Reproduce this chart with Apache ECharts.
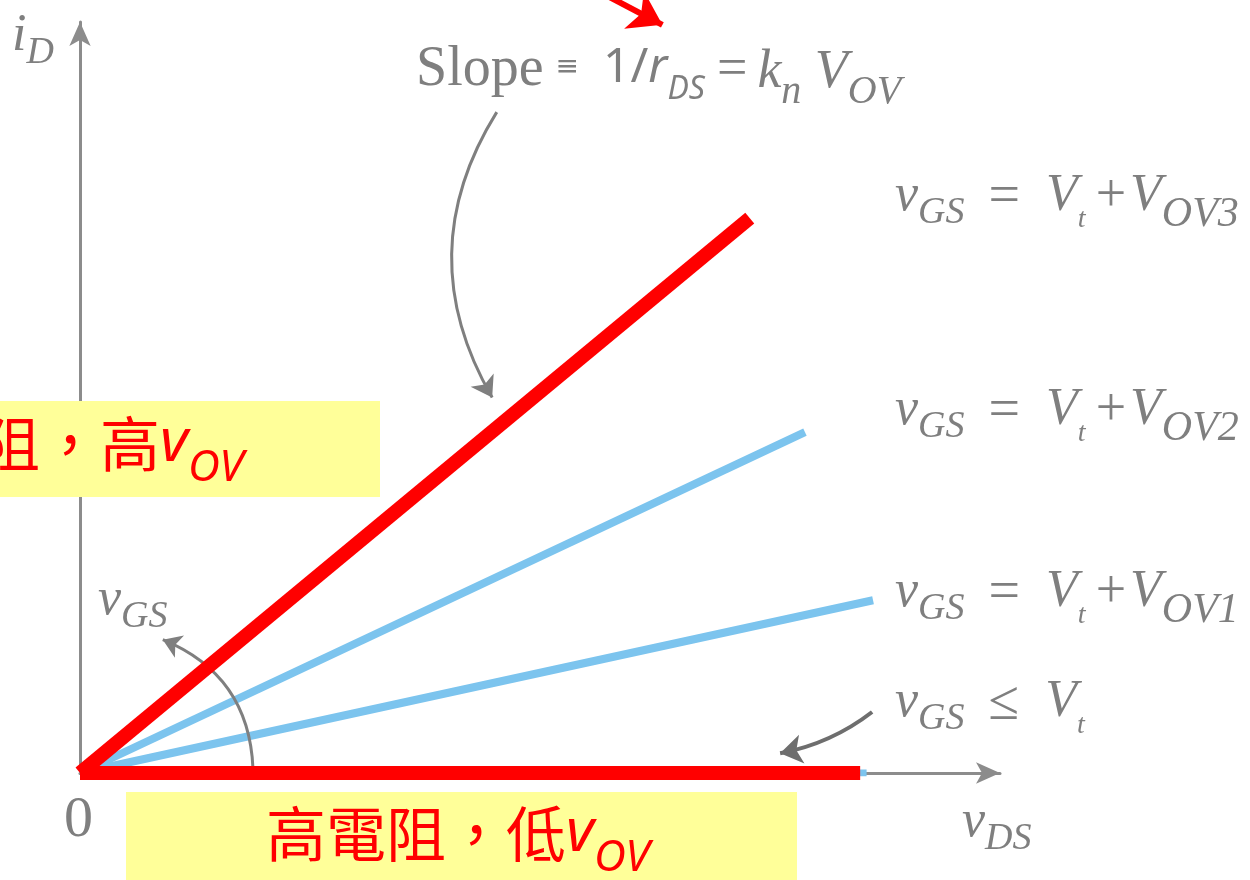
<!DOCTYPE html>
<html>
<head>
<meta charset="utf-8">
<script src="https://cdn.jsdelivr.net/npm/echarts@6/dist/echarts.min.js"></script>
<style>
  html, body { margin: 0; padding: 0; background: #fff; }
  #chart { width: 1250px; height: 880px; }
</style>
</head>
<body>
<div id="chart"></div>
<script>
// 曲線資料 (vDS, iD)，單位任意
const curveNames = ['VOV3', 'VOV2', 'VOV1', 'cutoff']
const endVds = [7.28, 7.88, 8.62, 8.48]
const endId = [5.91, 3.63, 1.84, 0]
const curveColors = ['#ff0000', '#7cc4ee', '#7cc4ee', '#ff0000']
const curveWidths = [14, 8, 8, 14]

// 註解箭頭: [起點, 終點]
const slopeArrow = [[4.53, 7.04], [4.48, 4.0]]
const gsArc = [[1.88, 0.05], [0.90, 1.42]]
const leqArrow = [[8.61, 0.65], [7.61, 0.21]]
const topArrow = [[5.65, 8.32], [6.33, 7.97]]

const GRAY = '#7f7f7f'
const SERIF = 'Liberation Serif'

function paintCurves () {
  return curveNames.map((name, i) => ({
    name,
    type: 'line',
    symbol: 'none',
    z: i === 0 || i === 3 ? 5 : 3,
    lineStyle: { color: curveColors[i], width: curveWidths[i], cap: 'butt' },
    data: [[0, 0], [endVds[i], endId[i]]]
  }))
}

function arrowSeries (pts, curveness, color, width, size) {
  return {
    type: 'lines',
    coordinateSystem: 'cartesian2d',
    clip: false,
    symbol: ['none', 'arrow'],
    symbolSize: size,
    z: 4,
    lineStyle: { color, width, curveness, opacity: 1 },
    data: [{ coords: pts }]
  }
}

// 數學式 rich 樣式 (graphic 用 fill)
const mathRich = {
  i: { fontFamily: SERIF, fontStyle: 'italic', fontSize: 52, fill: GRAY, lineHeight: 58, verticalAlign: 'top' },
  n: { fontFamily: SERIF, fontSize: 52, fill: GRAY, lineHeight: 58, verticalAlign: 'top' },
  op: { fontFamily: SERIF, fontSize: 56, fill: GRAY, lineHeight: 58, verticalAlign: 'top', padding: [0, 26, 0, 24] },
  pl: { fontFamily: SERIF, fontSize: 54, fill: GRAY, lineHeight: 58, verticalAlign: 'top', padding: [0, 4, 0, 10] },
  s: { fontFamily: SERIF, fontStyle: 'italic', fontSize: 38, fill: GRAY, lineHeight: 40, padding: [24, 0, 0, 0], verticalAlign: 'top' },
  s2: { fontFamily: SERIF, fontStyle: 'italic', fontSize: 42, fill: GRAY, lineHeight: 44, padding: [24, 0, 0, 0], verticalAlign: 'top' },
  t: { fontFamily: SERIF, fontStyle: 'italic', fontSize: 28, fill: GRAY, lineHeight: 30, padding: [36, 0, 0, 0], verticalAlign: 'top' },
  sl: { fontFamily: SERIF, fontSize: 56, fill: GRAY, lineHeight: 62, verticalAlign: 'top' },
  c: { fontFamily: 'Noto Sans', fontSize: 48, fill: GRAY, lineHeight: 62, padding: [2, 0, 0, 0], verticalAlign: 'top' },
  cr: { fontFamily: 'Noto Sans', fontStyle: 'italic', fontSize: 48, fill: GRAY, lineHeight: 62, padding: [2, 0, 0, 0], verticalAlign: 'top' },
  cs: { fontFamily: 'Noto Sans', fontStyle: 'italic', fontSize: 32, fill: GRAY, lineHeight: 36, padding: [32, 6, 0, 0], verticalAlign: 'top' },
  eq: { fontFamily: 'DejaVu Sans', fontSize: 28, fill: GRAY, lineHeight: 62, verticalAlign: 'top', padding: [12, 24, 0, 12] },
  se: { fontFamily: SERIF, fontSize: 54, fill: GRAY, lineHeight: 62, verticalAlign: 'top', padding: [2, 10, 0, 6] },
  si: { fontFamily: SERIF, fontStyle: 'italic', fontSize: 54, fill: GRAY, lineHeight: 62, padding: [4, 0, 0, 0], verticalAlign: 'top' },
  ss: { fontFamily: SERIF, fontStyle: 'italic', fontSize: 40, fill: GRAY, lineHeight: 42, padding: [30, 0, 0, 0], verticalAlign: 'top' }
}

function mathText (x, y, text) {
  return { type: 'text', x, y, z: 50, style: { text, rich: mathRich } }
}

const zhRich = {
  h: { fontFamily: 'Noto Sans CJK TC', fontSize: 60, fill: '#ff0000', lineHeight: 70, verticalAlign: 'top' },
  v: { fontFamily: 'Noto Sans', fontStyle: 'italic', fontSize: 60, fill: '#ff0000', lineHeight: 70, verticalAlign: 'top' },
  o: { fontFamily: 'Noto Sans', fontStyle: 'italic', fontSize: 44, fill: '#ff0000', lineHeight: 48, padding: [32, 0, 0, 0], verticalAlign: 'top' }
}

const chart = echarts.init(document.getElementById('chart'))
chart.setOption({
  animation: false,
  backgroundColor: '#ffffff',
  grid: { left: 80, right: 250, top: 22, bottom: 107 },
  xAxis: {
    type: 'value', min: 0, max: 10,
    axisLine: { lineStyle: { color: '#8c8c8c', width: 3 }, symbol: ['none', 'arrow'], symbolSize: [16, 24] },
    axisTick: { show: false }, axisLabel: { show: false }, splitLine: { show: false }
  },
  yAxis: {
    type: 'value', min: 0, max: 8,
    axisLine: { lineStyle: { color: '#8c8c8c', width: 3 }, symbol: ['none', 'arrow'], symbolSize: [16, 24] },
    axisTick: { show: false }, axisLabel: { show: false }, splitLine: { show: false }
  },
  series: [
    ...paintCurves(),
    {
      type: 'line', symbol: 'none', z: 2,
      lineStyle: { color: '#7cc4ee', width: 7 },
      data: [[0, 0], [8.55, 0]]
    },
    arrowSeries(slopeArrow, -0.3, GRAY, 3, [14, 20]),
    arrowSeries(gsArc, -0.32, GRAY, 3, [14, 18]),
    arrowSeries(leqArrow, 0.12, '#6e6e6e', 4, [16, 22]),
    arrowSeries(topArrow, 0, '#ff0000', 6, [28, 32])
  ],
  graphic: [
    mathText(12, 10, '{i|i}{s|D}'),
    mathText(416, 42, '{sl|Slope}{eq|≡}{c|1/}{cr|r}{cs|DS}{se|=}{si|k}{ss|n}{si| V}{ss|OV}'),
    mathText(895, 170, '{i|v}{s|GS}{op|=}{i|V}{t|t}{pl|+}{i|V}{s2|OV3}'),
    mathText(895, 384, '{i|v}{s|GS}{op|=}{i|V}{t|t}{pl|+}{i|V}{s2|OV2}'),
    mathText(895, 566, '{i|v}{s|GS}{op|=}{i|V}{t|t}{pl|+}{i|V}{s2|OV1}'),
    mathText(895, 676, '{i|v}{s|GS}{op|≤}{i|V}{t|t}'),
    mathText(98, 574, '{i|v}{s|GS}'),
    mathText(962, 796, '{i|v}{s|DS}'),
    { type: 'text', x: 64, y: 792, z: 50, style: { text: '0', fontFamily: SERIF, fontSize: 58, fill: GRAY } },
    { type: 'rect', z: 60, shape: { x: 0, y: 401, width: 380, height: 96 }, style: { fill: '#ffff99' } },
    {
      type: 'text', x: -140, y: 414, z: 61,
      style: { text: '{h|低電阻，高}{v|v}{o|OV}', rich: zhRich }
    },
    { type: 'rect', z: 60, shape: { x: 126, y: 792, width: 671, height: 88 }, style: { fill: '#ffff99' } },
    {
      type: 'text', x: 266, y: 804, z: 61,
      style: { text: '{h|高電阻，低}{v|v}{o|OV}', rich: zhRich }
    }
  ]
})
</script>
</body>
</html>
